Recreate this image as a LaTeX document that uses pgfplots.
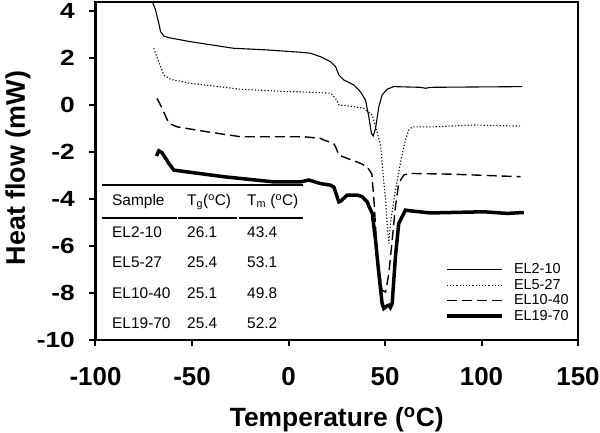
\documentclass[border=0pt]{standalone}
\usepackage{fontspec}
\setmainfont{Liberation Sans}
\newfontfamily\widefont[FakeStretch=1.2]{Liberation Sans}
\usepackage{pgfplots}
\pgfplotsset{compat=1.18}

\begin{document}
\begin{tikzpicture}[x=1bp,y=1bp]
\begin{axis}[
  at={(0,0)}, anchor=south west,
  scale only axis, width=482.5bp, height=338.3bp,
  xmin=-100, xmax=150, ymin=-10, ymax=4.38,
  xtick={-100,-50,...,150}, ytick={-10,-8,...,4},
  tick align=outside, xtick pos=left, ytick pos=left,
  major tick length=6bp,
  axis line style={line width=2bp},
  tick style={line width=2bp, black},
  /pgf/number format/assume math mode=true,
  xticklabel style={font=\fontsize{26}{28}\selectfont\bfseries, inner sep=0pt, yshift=-21bp},
  yticklabel style={font=\fontsize{22}{24}\selectfont\widefont\bfseries, inner sep=0pt, xshift=-14.5bp},
  xlabel={Temperature (\textsuperscript{o}C)},
  ylabel={Heat flow (mW)},
  xlabel style={font=\fontsize{26.5}{30}\selectfont\bfseries, at={(axis description cs:0.5,-0.255)}, anchor=base},
  ylabel style={font=\fontsize{27}{30}\selectfont\bfseries, at={(axis description cs:-0.161,0.508)}, anchor=center},
  legend style={draw=none, fill=none, at={(0.724,0.23)}, anchor=north west,
    font=\fontsize{14.5}{16}\selectfont, row sep=0.8bp, column sep=9bp, inner sep=0pt,
    cells={anchor=west}, nodes={inner sep=1.5bp}},
  legend image code/.code={\draw[#1] (0bp,0bp) -- (55bp,0bp);},
]
% EL2-10
\addplot[black, line width=1.1bp] coordinates {
(-71.6,4.6) (-68.9,4.03) (-67.2,3.46) (-66.3,3.11) (-64.6,2.92) (-62.0,2.85)
(-50.8,2.68) (-28.5,2.40) (-11.0,2.33) (6.2,2.23) (11.4,2.19) (16.6,2.04)
(21.8,1.83) (24.4,1.62) (26.1,1.26) (28.7,1.05) (33.9,0.84) (37.3,0.55)
(39.9,0.20) (41.6,-0.51) (43.0,-1.22) (43.9,-1.33) (45.1,-1.00) (46.8,-0.09)
(48.5,0.41) (51.1,0.66) (54.5,0.77) (68.4,0.74) (71.0,0.70) (73.6,0.74)
(121.1,0.77)
};
% EL5-27
\addplot[black, line width=1.1bp, dash pattern=on 1.2bp off 2bp] coordinates {
(-69.8,2.40) (-68.5,2.10) (-67.2,1.83) (-64.6,1.26) (-61.1,1.08) (-50.8,0.91)
(-24.9,0.66) (1.0,0.55) (6.2,0.55) (21.8,0.49) (24.4,0.27) (26.1,-0.01)
(32.1,-0.06) (38.9,-0.15) (43.4,-0.44) (45.1,-0.94) (47.7,-1.70) (49.4,-3.30)
(50.3,-4.00) (51.1,-5.05) (52.0,-5.90) (52.8,-5.05) (55.4,-3.63) (58.5,-2.25)
(60.6,-1.50) (62.3,-1.08) (64.1,-0.94) (75.1,-0.94) (95.9,-0.86) (120.2,-0.91)
};
% EL10-40
\addplot[black, line width=1.4bp, dash pattern=on 10bp off 5bp] coordinates {
(-68.1,0.27) (-65.5,-0.15) (-62.0,-0.79) (-57.7,-0.94) (-42.2,-1.15) (-24.9,-1.36)
(7.9,-1.36) (16.6,-1.43) (18.3,-1.50) (23.3,-1.64) (24.4,-1.79) (26.1,-2.14)
(30.4,-2.28) (37.3,-2.49) (40.8,-2.64) (43.2,-2.95) (44.4,-4.20) (46.0,-6.47)
(48.5,-7.89) (50.3,-7.96) (52.0,-7.17) (53.7,-5.76) (55.4,-4.34) (57.1,-3.34)
(59.7,-2.99) (62.3,-2.92) (83.9,-2.95) (120.2,-3.06)
};
% EL19-70
\addplot[black, line width=3.5bp] coordinates {
(-68.4,-2.18) (-67.2,-1.96) (-65.5,-2.04) (-62.0,-2.49) (-59.4,-2.78) (-33.5,-3.06)
(-7.6,-3.28) (6.2,-3.28) (10.5,-3.20) (16.6,-3.35) (21.8,-3.42) (23.5,-3.50)
(26.1,-4.13) (27.0,-4.10) (30.4,-3.84) (35.6,-3.84) (38.2,-3.91) (40.8,-4.13)
(41.6,-4.30) (43.4,-4.62) (45.1,-5.76) (46.8,-7.17) (48.5,-8.45) (49.4,-8.66)
(51.0,-8.55) (52.0,-8.52) (52.8,-8.62) (53.7,-8.45) (55.4,-6.47) (57.1,-5.05)
(60.6,-4.48) (63.2,-4.51) (73.6,-4.60) (101.2,-4.55) (113.3,-4.62) (121.9,-4.58)
};
\legend{EL2-10,EL5-27,EL10-40,EL19-70}
\end{axis}
% frame
\draw[line width=2bp] (0,0) -- (0,338.3) -- (482.5,338.3) -- (482.5,0) -- cycle;
% inset table
\draw[line width=1.3bp] (6.5,155) -- (207.5,155);
\draw[line width=2bp] (6.8,122.3) -- (81.8,122.3);
\draw[line width=2bp] (82.8,122.3) -- (141.2,122.3);
\draw[line width=2bp] (143.5,122.3) -- (207.8,122.3);
\begin{scope}[every node/.style={anchor=base west, inner sep=0pt, font=\fontsize{15.5}{18}\selectfont}]
\node at (16.5,134.3) {Sample};
\node at (91.5,134.3) {T\textsubscript{g}(\textsuperscript{o}C)};
\node at (151.5,134.3) {T\textsubscript{m} (\textsuperscript{o}C)};
\node at (16.5,102.3) {EL2-10};  \node at (91.5,102.3) {26.1}; \node at (151.5,102.3) {43.4};
\node at (16.5,72.1) {EL5-27};   \node at (91.5,72.1) {25.4};  \node at (151.5,72.1) {53.1};
\node at (16.5,41.9) {EL10-40};  \node at (91.5,41.9) {25.1};  \node at (151.5,41.9) {49.8};
\node at (16.5,11.7) {EL19-70};  \node at (91.5,11.7) {25.4};  \node at (151.5,11.7) {52.2};
\end{scope}
\pgfresetboundingbox
\path[use as bounding box] (-95.5,-93) rectangle (504.5,340);
\end{tikzpicture}
\end{document}
